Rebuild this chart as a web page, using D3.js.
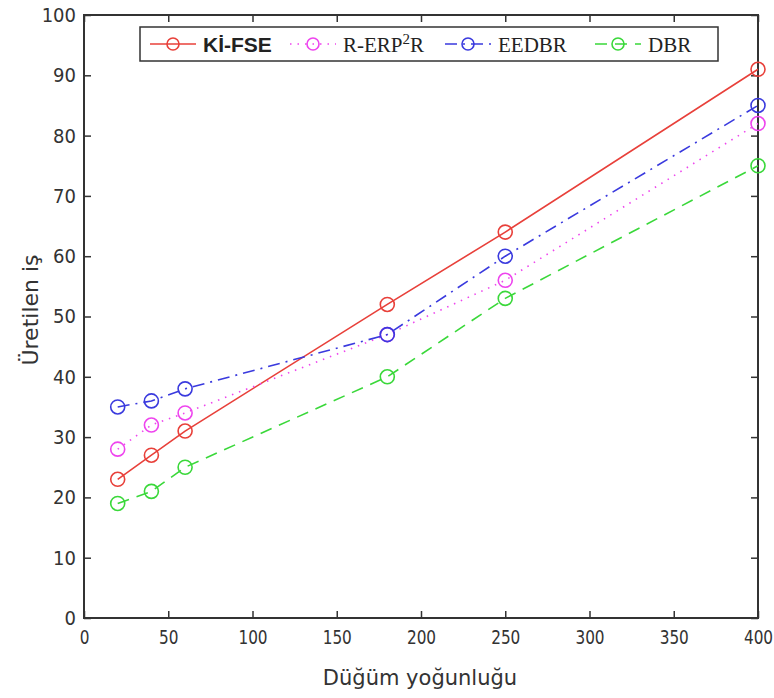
<!DOCTYPE html>
<html>
<head>
<meta charset="utf-8">
<script src="https://cdn.jsdelivr.net/npm/d3@7"></script>
<style>
  body { margin: 0; background: #fff; }
  .tick text { font-family: "Liberation Sans Narrow", "DejaVu Sans Condensed", sans-serif; font-size: 20px; fill: #333; }
</style>
</head>
<body>
<svg id="graf" width="774" height="698"></svg>
<script>
// x values (node density) and the four series
const xVals = [20, 40, 60, 180, 250, 400];
const kiFse = [23, 27, 31, 52, 64, 91];
const rErp2r = [28, 32, 34, 47, 56, 82];
const eedbr = [35, 36, 38, 47, 60, 85];
const dbr = [19, 21, 25, 40, 53, 75];
const xTicks = [0, 50, 100, 150, 200, 250, 300, 350, 400];
const yTicks = [0, 10, 20, 30, 40, 50, 60, 70, 80, 90, 100];

const series = [
  {name: "Kİ-FSE", values: kiFse, color: "#e8403a", dash: null},
  {name: "R-ERP2R", values: rErp2r, color: "#ee44ee", dash: "1.5,6"},
  {name: "EEDBR", values: eedbr, color: "#3a3ade", dash: "12,6,2,6"},
  {name: "DBR", values: dbr, color: "#3ad83a", dash: "12,8"}
];

const pLeft = 84, pRight = 758, pTop = 15, pBottom = 618;
const svg = d3.select("#graf");

const xScale = d3.scaleLinear().domain([0, 400]).range([pLeft, pRight]);
const yScale = d3.scaleLinear().domain([0, 100]).range([pBottom, pTop]);

// axes, ticks point inward like matlab
const xAxis = d3.axisBottom(xScale).tickValues(xTicks).tickSize(-7).tickPadding(12);
const yAxis = d3.axisLeft(yScale).tickValues(yTicks).tickSize(-7).tickPadding(8);

svg.append("g")
  .attr("transform", `translate(0,${pBottom})`)
  .call(xAxis)
  .call(g => g.select(".domain").remove())
  .call(g => g.selectAll(".tick text").attr("transform", "scale(0.85,1)"));
svg.append("g")
  .attr("transform", `translate(${pLeft},0)`)
  .call(yAxis)
  .call(g => g.select(".domain").remove());
// top and right ticks
svg.append("g")
  .attr("transform", `translate(0,${pTop})`)
  .call(d3.axisTop(xScale).tickValues(xTicks).tickSize(-7).tickFormat(""))
  .call(g => g.select(".domain").remove());
svg.append("g")
  .attr("transform", `translate(${pRight},0)`)
  .call(d3.axisRight(yScale).tickValues(yTicks).tickSize(-7).tickFormat(""))
  .call(g => g.select(".domain").remove());

svg.selectAll(".tick line").attr("stroke", "#333").attr("stroke-width", 1.5);

svg.append("rect")
  .attr("x", pLeft).attr("y", pTop)
  .attr("width", pRight - pLeft).attr("height", pBottom - pTop)
  .attr("fill", "none").attr("stroke", "#333").attr("stroke-width", 2);

const line = d3.line()
  .x((d, i) => xScale(xVals[i]))
  .y(d => yScale(d));

series.forEach(s => {
  svg.append("path")
    .datum(s.values)
    .attr("d", line)
    .attr("fill", "none")
    .attr("stroke", s.color)
    .attr("stroke-width", 1.6)
    .attr("stroke-dasharray", s.dash);
  svg.selectAll(null)
    .data(s.values)
    .enter()
    .append("circle")
    .attr("cx", (d, i) => xScale(xVals[i]))
    .attr("cy", d => yScale(d))
    .attr("r", 7)
    .attr("fill", "none")
    .attr("stroke", s.color)
    .attr("stroke-width", 1.6);
});

// legend
const legend = svg.append("g");
legend.append("rect")
  .attr("x", 140).attr("y", 27).attr("width", 578).attr("height", 34)
  .attr("fill", "#fff").attr("stroke", "#333").attr("stroke-width", 1.5);

const legendX = [150, 290, 445, 595];
series.forEach((s, i) => {
  const x0 = legendX[i];
  legend.append("line")
    .attr("x1", x0).attr("x2", x0 + 46).attr("y1", 44).attr("y2", 44)
    .attr("stroke", s.color).attr("stroke-width", 1.6)
    .attr("stroke-dasharray", s.dash);
  legend.append("circle")
    .attr("cx", x0 + 23).attr("cy", 44).attr("r", 6)
    .attr("fill", "none").attr("stroke", s.color).attr("stroke-width", 1.6);
  const t = legend.append("text")
    .attr("x", x0 + 53).attr("y", 52)
    .attr("fill", "#222");
  if (i === 0) {
    t.attr("font-family", "Liberation Sans, Arial, sans-serif").attr("font-weight", "bold").attr("font-size", 21).text(s.name);
  } else if (i === 1) {
    t.attr("font-family", "Liberation Serif, serif").attr("font-size", 21);
    t.append("tspan").text("R-ERP");
    t.append("tspan").attr("font-size", 15).attr("dy", -8).text("2");
    t.append("tspan").attr("dy", 8).text("R");
  } else {
    t.attr("font-family", "Liberation Serif, serif").attr("font-size", 21).text(s.name);
  }
});

// axis titles
svg.append("text")
  .attr("x", 420).attr("y", 685)
  .attr("text-anchor", "middle")
  .attr("font-family", "DejaVu Sans, sans-serif")
  .attr("font-size", 21).attr("fill", "#333")
  .text("Düğüm yoğunluğu");
svg.append("text")
  .attr("transform", "translate(38,310) rotate(-90)")
  .attr("text-anchor", "middle")
  .attr("font-family", "DejaVu Sans, sans-serif")
  .attr("font-size", 22).attr("fill", "#333")
  .text("Üretilen iş");
</script>
</body>
</html>
